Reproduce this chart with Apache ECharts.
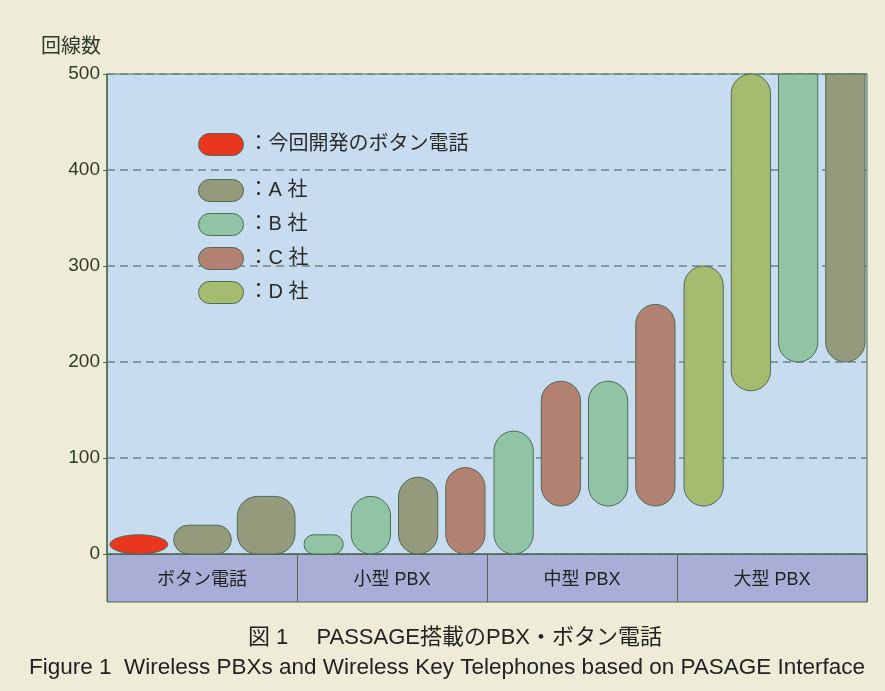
<!DOCTYPE html>
<html>
<head>
<meta charset="utf-8">
<script src="https://cdn.jsdelivr.net/npm/echarts@6/dist/echarts.min.js"></script>
<style>
html, body { margin: 0; padding: 0; background: #eeecd6; }
#main { width: 885px; height: 691px; }
</style>
</head>
<body>
<div id="main"></div>
<script>
// categories along the bottom band
var categories = ['ボタン電話', '小型 PBX', '中型 PBX', '大型 PBX'];
// number of bars placed in each category
var slotCounts = [3, 4, 4, 4];
var yTicks = [0, 100, 200, 300, 400, 500];

// each item: [category, slot, low, high, openTop]
var ownPhone = [[0, 0, 0, 20, 0]];
var companyA = [[0, 1, 0, 30, 0], [0, 2, 0, 60, 0], [1, 2, 0, 80, 0], [3, 3, 200, 500, 1]];
var companyB = [[1, 0, 0, 20, 0], [1, 1, 0, 60, 0], [2, 0, 0, 128, 0], [2, 2, 50, 180, 0], [3, 2, 200, 500, 1]];
var companyC = [[1, 3, 0, 90, 0], [2, 1, 50, 180, 0], [2, 3, 50, 260, 0]];
var companyD = [[3, 0, 50, 300, 0], [3, 1, 170, 500, 0]];

var seriesNames = ['今回開発のボタン電話', 'A 社', 'B 社', 'C 社', 'D 社'];
var seriesColors = ['#e8361f', '#949a7b', '#90c4a5', '#b38172', '#a5bb70'];
var seriesData = [ownPhone, companyA, companyB, companyC, companyD];

var FONT = '"Liberation Sans", "Noto Sans CJK JP", sans-serif';
var LINE = '#4e6b58';

var chart = echarts.init(document.getElementById('main'));

function renderItem(params, api) {
    var cat = api.value(0);
    var slot = api.value(1);
    var lo = api.value(2);
    var hi = api.value(3);
    var open = api.value(4);
    var n = slotCounts[cat];
    var band = api.size([1, 0])[0];
    var start = api.coord([cat, 0])[0] - band / 2;
    var pad = n === 3 ? 3 : 7;
    var gap = n === 3 ? 6 : 8;
    var w = (band - pad - 2 - (n - 1) * gap) / n;
    var x = start + pad + slot * (w + gap);
    var yTop = api.coord([cat, hi])[1];
    var yBot = api.coord([cat, lo])[1];
    var h = yBot - yTop;
    var style = { fill: api.visual('color'), stroke: LINE, lineWidth: 1 };
    if (!open && h < 0.45 * w) {
        // very flat marks look like lenses in the original
        return {
            type: 'ellipse',
            shape: { cx: x + w / 2, cy: yTop + h / 2, rx: w / 2, ry: h / 2 },
            style: style
        };
    }
    var r = Math.min(20, w / 2, h / 2);
    return {
        type: 'rect',
        shape: { x: x, y: yTop, width: w, height: h, r: open ? [0, 0, r, r] : r },
        style: style
    };
}

var pill = 'path://M11,0L34,0A11,11,0,0,1,34,22L11,22A11,11,0,0,1,11,0Z';

var series = seriesNames.map(function (name, i) {
    return {
        name: name,
        type: 'custom',
        renderItem: renderItem,
        itemStyle: { color: seriesColors[i] },
        encode: { x: 0, y: 3 },
        data: seriesData[i],
        z: 3
    };
});

var legendBase = {
    icon: pill,
    itemWidth: 45,
    itemHeight: 22,
    selectedMode: false,
    orient: 'vertical',
    left: 198,
    padding: 0,
    itemGap: 11,
    itemStyle: { borderColor: LINE, borderWidth: 1 },
    textStyle: { fontSize: 20, color: '#2b2b2b', fontFamily: FONT },
    formatter: '：{name}'
};

var option = {
    backgroundColor: '#eeecd6',
    animation: false,
    textStyle: { fontFamily: FONT },
    title: [{
        text: '図 1　 PASSAGE搭載のPBX・ボタン電話',
        left: 450,
        textAlign: 'center',
        top: 622,
        textStyle: { fontSize: 22, fontWeight: 'normal', color: '#222', fontFamily: FONT }
    }, {
        text: 'Figure 1  Wireless PBXs and Wireless Key Telephones based on PASAGE Interface',
        left: 442,
        textAlign: 'center',
        top: 652,
        textStyle: { fontSize: 22.5, fontWeight: 'normal', color: '#222', fontFamily: FONT }
    }],
    legend: [
        Object.assign({}, legendBase, { data: [seriesNames[0]], top: 133 }),
        Object.assign({}, legendBase, { data: seriesNames.slice(1), top: 179 })
    ],
    grid: {
        left: 107, right: 18, top: 74, bottom: 137,
        show: true,
        backgroundColor: '#c7dcee',
        borderColor: '#4f6a50',
        borderWidth: 1
    },
    graphic: [{
        type: 'rect',
        z: 1,
        shape: { x: 107, y: 554, width: 760, height: 48 },
        style: { fill: '#a8aed5', stroke: '#4f6a50', lineWidth: 1 }
    }],
    xAxis: {
        type: 'category',
        data: categories,
        z: 10,
        axisLine: { lineStyle: { color: '#4f6a50', width: 1 } },
        axisTick: { show: true, length: 48, lineStyle: { color: '#4f6a50' } },
        axisLabel: { margin: 17, fontSize: 18, color: '#222', fontFamily: FONT }
    },
    yAxis: {
        type: 'value',
        min: yTicks[0],
        max: yTicks[yTicks.length - 1],
        interval: 100,
        name: '回線数',
        nameLocation: 'end',
        nameGap: 17,
        nameTextStyle: { fontSize: 20, color: '#2f3a2a', align: 'right', padding: [0, 6, 0, 0], fontFamily: FONT },
        axisLine: { show: true, lineStyle: { color: '#4f6a50', width: 1.5 } },
        axisTick: { show: true, length: 4, lineStyle: { color: '#4f6a50' } },
        axisLabel: { margin: 7, fontSize: 19, color: '#2f3a2a', fontFamily: FONT },
        splitLine: { show: true, lineStyle: { color: '#6b8788', type: [8, 5], width: 1.5 } }
    },
    series: series
};

chart.setOption(option);
</script>
</body>
</html>
